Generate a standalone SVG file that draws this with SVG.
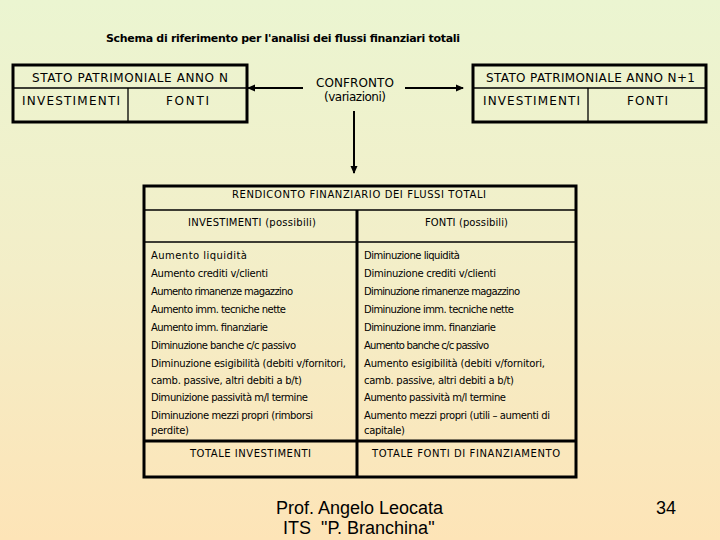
<svg xmlns="http://www.w3.org/2000/svg" width="720" height="540" viewBox="0 0 720 540">
<defs>
<linearGradient id="bg" x1="0" y1="0" x2="0" y2="1">
<stop offset="0" stop-color="#EBF5D1"/>
<stop offset="0.5" stop-color="#F3EEC8"/>
<stop offset="1" stop-color="#FDE4B7"/>
</linearGradient>
<marker id="ah" markerWidth="8" markerHeight="8" refX="7" refY="4" orient="auto" markerUnits="userSpaceOnUse">
<path d="M0,0.5 L8,4 L0,7.5 Z" fill="#000"/>
</marker>
<style>
.outer{fill:none;stroke:#000;stroke-width:3}
.inner{fill:none;stroke:#000;stroke-width:1.3}
.t{font-family:"DejaVu Sans","Liberation Sans",sans-serif;fill:#000}
.h{font-size:12px}
.r{font-size:10px}
.c{text-anchor:middle}
.b{font-weight:bold;font-size:11px}
.conn{stroke:#000;stroke-width:2;fill:none}
.foot{font-family:"Liberation Sans",Arial,sans-serif;font-size:18px;fill:#000}
</style>
</defs>
<rect width="720" height="540" fill="url(#bg)"/>

<g id="title">
<text class="t b" x="106" y="42" textLength="354">Schema di riferimento per l'analisi dei flussi finanziari totali</text>
</g>

<g id="box-anno-n">
<rect class="outer" x="13" y="65" width="234" height="57"/>
<line class="inner" x1="13" y1="88" x2="247" y2="88"/>
<line class="inner" x1="128" y1="88" x2="128" y2="122"/>
<text class="t h" x="32" y="82" textLength="196">STATO PATRIMONIALE ANNO N</text>
<text class="t h" x="22" y="105" textLength="98">INVESTIMENTI</text>
<text class="t h" x="166" y="105" textLength="43">FONTI</text>
</g>

<g id="confronto">
<text class="t h" x="316" y="87" textLength="78">CONFRONTO</text>
<text class="t h" x="324" y="101" textLength="62">(variazioni)</text>
</g>

<g id="box-anno-n1">
<rect class="outer" x="473" y="65" width="233" height="57"/>
<line class="inner" x1="473" y1="88" x2="706" y2="88"/>
<line class="inner" x1="588" y1="88" x2="588" y2="122"/>
<text class="t h" x="486" y="82" textLength="209">STATO PATRIMONIALE ANNO N+1</text>
<text class="t h" x="483" y="105" textLength="97">INVESTIMENTI</text>
<text class="t h" x="627" y="105" textLength="41">FONTI</text>
</g>

<g id="connectors">
<line class="conn" x1="303" y1="88" x2="248" y2="88" marker-end="url(#ah)"/>
<line class="conn" x1="405" y1="88" x2="463" y2="88" marker-end="url(#ah)"/>
<line class="conn" x1="354" y1="111" x2="354" y2="173" marker-end="url(#ah)"/>
</g>

<g id="rendiconto">
<rect class="outer" x="144" y="186" width="432" height="291"/>
<line class="inner" x1="144" y1="210" x2="576" y2="210"/>
<line class="inner" x1="144" y1="242" x2="576" y2="242"/>
<line class="outer" x1="144" y1="441" x2="576" y2="441"/>
<line class="outer" x1="357" y1="210" x2="357" y2="477"/>
<text class="t r" x="232" y="198" textLength="254">RENDICONTO FINANZIARIO DEI FLUSSI TOTALI</text>
<text class="t r" x="188" y="226" textLength="128">INVESTIMENTI (possibili)</text>
<text class="t r" x="425" y="226" textLength="83">FONTI (possibili)</text>

<text class="t r" x="151" y="259" textLength="96">Aumento liquidità</text>
<text class="t r" x="151" y="277" textLength="117">Aumento crediti v/clienti</text>
<text class="t r" x="151" y="295" textLength="142">Aumento rimanenze magazzino</text>
<text class="t r" x="151" y="313" textLength="135">Aumento imm. tecniche nette</text>
<text class="t r" x="151" y="331" textLength="117">Aumento imm. finanziarie</text>
<text class="t r" x="151" y="349" textLength="145">Diminuzione banche c/c passivo</text>
<text class="t r" x="151" y="367" textLength="195">Diminuzione esigibilità (debiti v/fornitori,</text>
<text class="t r" x="151" y="384" textLength="151">camb. passive, altri debiti a b/t)</text>
<text class="t r" x="151" y="401" textLength="157">Dimunizione passività m/l termine</text>
<text class="t r" x="151" y="419" textLength="162">Diminuzione mezzi propri (rimborsi</text>
<text class="t r" x="151" y="434" textLength="38">perdite)</text>

<text class="t r" x="364" y="259" textLength="96">Diminuzione liquidità</text>
<text class="t r" x="364" y="277" textLength="132">Diminuzione crediti v/clienti</text>
<text class="t r" x="364" y="295" textLength="156">Diminuzione rimanenze magazzino</text>
<text class="t r" x="364" y="313" textLength="150">Diminuzione imm. tecniche nette</text>
<text class="t r" x="364" y="331" textLength="132">Diminuzione imm. finanziarie</text>
<text class="t r" x="364" y="349" textLength="125">Aumento banche c/c passivo</text>
<text class="t r" x="364" y="367" textLength="181">Aumento esigibilità (debiti v/fornitori,</text>
<text class="t r" x="364" y="384" textLength="150">camb. passive, altri debiti a b/t)</text>
<text class="t r" x="364" y="401" textLength="142">Aumento passività m/l termine</text>
<text class="t r" x="364" y="419" textLength="186">Aumento mezzi propri (utili – aumenti di</text>
<text class="t r" x="364" y="434" textLength="41">capitale)</text>

<text class="t r" x="190" y="457" textLength="121">TOTALE INVESTIMENTI</text>
<text class="t r" x="372" y="457" textLength="188">TOTALE FONTI DI FINANZIAMENTO</text>
</g>

<g id="footer">
<text class="foot" x="276" y="514">Prof. Angelo Leocata</text>
<text class="foot" x="283" y="534" xml:space="preserve">ITS  "P. Branchina"</text>
<text class="foot" x="656" y="514">34</text>
</g>
</svg>
